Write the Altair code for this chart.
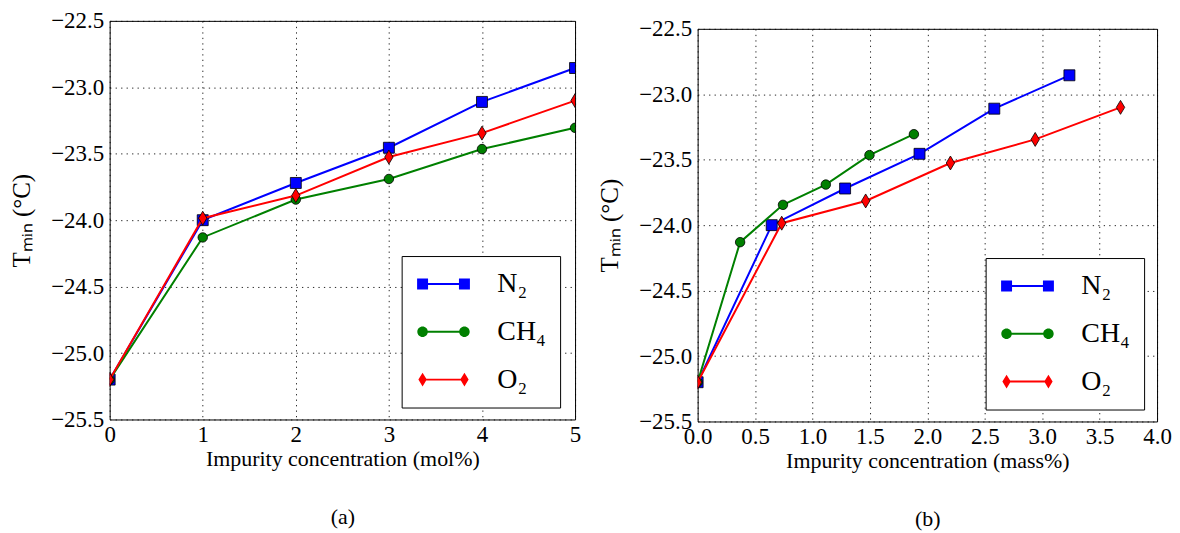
import altair as alt
import pandas as pd

series = ["N₂", "CH₄", "O₂"]
colors = ["#0000ff", "#008000", "#ff0000"]

# (a) mol%
mol_x = [0, 1, 2, 3, 4, 5]
tmin_n2 = [-25.2, -24.0, -23.72, -23.455, -23.11, -22.855]
tmin_ch4 = [-25.2, -24.13, -23.845, -23.69, -23.465, -23.305]
tmin_o2 = [-25.2, -23.985, -23.815, -23.525, -23.345, -23.10]

# (b) mass%
mass_x_n2 = [0, 0.645, 1.284, 1.932, 2.583, 3.237]
mass_x_ch4 = [0, 0.370, 0.743, 1.116, 1.496, 1.883]
mass_x_o2 = [0, 0.732, 1.463, 2.201, 2.939, 3.682]

y_ticks = [-25.5, -25.0, -24.5, -24.0, -23.5, -23.0, -22.5]
mol_ticks = [0, 1, 2, 3, 4, 5]
mass_ticks = [0.0, 0.5, 1.0, 1.5, 2.0, 2.5, 3.0, 3.5, 4.0]

FONT = "Liberation Serif"

marker_shapes = ["square", "circle", "M0,-1L0.6,0L0,1L-0.6,0Z"]
marker_sizes = [121, 90, 196]

# legend symbols: marker - line - marker (unit = 12 px), all drawn clockwise
legend_paths = [
    "M-2.208,-0.458H-1.292V0.458H-2.208Z M1.292,-0.458H2.208V0.458H1.292Z M-1.75,-0.083H1.75V0.083H-1.75Z",
    "M-2.19,0A0.44,0.44 0 1,1 -1.31,0A0.44,0.44 0 1,1 -2.19,0Z M1.31,0A0.44,0.44 0 1,1 2.19,0A0.44,0.44 0 1,1 1.31,0Z M-1.75,-0.083H1.75V0.083H-1.75Z",
    "M-1.75,-0.583L-1.4,0L-1.75,0.583L-2.1,0Z M1.75,-0.583L2.1,0L1.75,0.583L1.4,0Z M-1.75,-0.083H1.75V0.083H-1.75Z",
]


def make_df(xs_list, ys_list):
    rows = []
    for s, xs, ys in zip(series, xs_list, ys_list):
        for x, y in zip(xs, ys):
            rows.append({"x": x, "t": y, "series": s})
    return pd.DataFrame(rows)


def panel(df, xtitle, caption, xdomain, xticks, xformat, w, h, lx, ly):
    x_enc = alt.X(
        "x:Q",
        scale=alt.Scale(domain=xdomain, nice=False, zero=False),
        axis=alt.Axis(
            values=xticks, format=xformat, title=[xtitle, caption],
            titleLineHeight=58, labelFlush=False, labelOverlap=False,
            labelPadding=4, titlePadding=2,
        ),
    )
    y_enc = alt.Y(
        "t:Q",
        scale=alt.Scale(domain=[-25.5, -22.5], nice=False, zero=False),
        axis=alt.Axis(
            values=y_ticks, format=".1f", title="Tₘᵢₙ (°C)", titleFontSize=25,
            labelPadding=6, titlePadding=16, labelOverlap=False,
        ),
    )
    base = alt.Chart(df)
    layers = []
    for s, col, shp, sz in zip(series, colors, marker_shapes, marker_sizes):
        sub = base.transform_filter(alt.datum.series == s)
        layers.append(
            sub.mark_line(strokeWidth=2, clip=True, color=col).encode(x=x_enc, y=y_enc)
        )
        layers.append(
            sub.mark_point(shape=shp, size=sz, filled=True, opacity=1, fill=col,
                           stroke="black", strokeWidth=0.8, clip=True).encode(x=x_enc, y=y_enc)
        )
    leg = alt.Legend(
        title=None, orient="none", legendX=lx, legendY=ly, direction="vertical",
        symbolSize=576, symbolStrokeWidth=0, symbolOpacity=1,
        symbolOffset=14, labelOffset=40,
        labelFont=FONT, labelFontSize=28, labelColor="black",
        padding=14, rowPadding=20, strokeColor="black", fillColor="white",
    )
    legend_layer = base.transform_filter("false").mark_point(filled=True, opacity=1).encode(
        x=x_enc, y=y_enc,
        color=alt.Color("series:N", scale=alt.Scale(domain=series, range=colors), legend=leg),
        shape=alt.Shape("series:N", scale=alt.Scale(domain=series, range=legend_paths), legend=leg),
    )
    layers.append(legend_layer)
    return alt.layer(*layers).properties(width=w, height=h)


df_a = make_df([mol_x, mol_x, mol_x], [tmin_n2, tmin_ch4, tmin_o2])
df_b = make_df([mass_x_n2, mass_x_ch4, mass_x_o2], [tmin_n2, tmin_ch4, tmin_o2])

left = panel(df_a, "Impurity concentration (mol%)", "(a)", [0, 5], mol_ticks, "d",
             467, 400, 293, 236)
right_plot = panel(df_b, "Impurity concentration (mass%)", "(b)", [0, 4], mass_ticks, ".1f",
                   461, 394, 289, 238)

spacer = alt.Chart(pd.DataFrame({"v": [0]})).mark_point(opacity=0, size=1).encode(
    x=alt.value(0), y=alt.value(0)
).properties(width=461, height=8, view=alt.ViewBackground(stroke="transparent"))

right = alt.vconcat(spacer, right_plot, spacing=0, bounds="flush")

chart = alt.hconcat(left, right, spacing=123, bounds="flush").resolve_scale(
    color="independent", shape="independent"
).properties(
    padding={"left": 1, "top": 0, "right": 0, "bottom": 0}
).configure(background="white").configure_view(
    stroke="black", strokeWidth=1
).configure_axis(
    domain=False, ticks=False, grid=True, gridColor="black", gridDash=[1.3, 4.2],
    gridWidth=1, gridOpacity=0.85,
    labelFont=FONT, labelFontSize=23, labelColor="black",
    titleFont=FONT, titleFontSize=22, titleFontWeight="normal", titleColor="black",
).configure_title(font=FONT)

chart.save("out.html", embed_options={"renderer": "svg", "actions": False})
